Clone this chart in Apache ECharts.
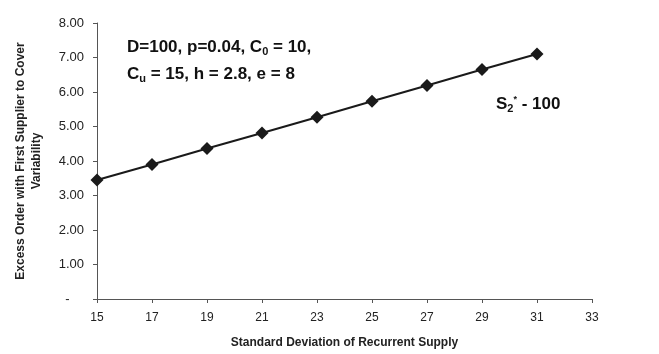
<!DOCTYPE html>
<html><head><meta charset="utf-8">
<script src="https://cdn.jsdelivr.net/npm/echarts@6/dist/echarts.min.js"></script>
<style>html,body{margin:0;padding:0;background:#fff}#c{width:659px;height:354px}</style>
</head><body><div id="c"></div>
<script>
const xValues = [15, 17, 19, 21, 23, 25, 27, 29, 31];
const yValues = [3.45, 3.90, 4.36, 4.81, 5.27, 5.73, 6.19, 6.65, 7.10];
const xAxisTitle = 'Standard Deviation of Recurrent Supply';
const yAxisTitle = 'Excess Order with First Supplier to Cover\nVariability';
const font = '"Liberation Sans", Arial, sans-serif';
const chart = echarts.init(document.getElementById('c'), null, {renderer: 'canvas'});
const subRich = {
  b: {fontFamily: font, fontWeight: 'bold', fontSize: 17, color: '#111'},
  s: {fontFamily: font, fontWeight: 'bold', fontSize: 11, color: '#111', padding: [8, 0, 0, 0]},
  sup: {fontFamily: font, fontWeight: 'bold', fontSize: 9, color: '#111', padding: [0, 0, 10, 0]}
};
chart.setOption({
  animation: false,
  grid: {left: 97, right: 67, top: 23, bottom: 55},
  title: [
    {left: 122, top: 33, text: '{b|D=100, p=0.04, C}{s|0}{b| = 10,}', textStyle: {rich: subRich}},
    {left: 122, top: 60, text: '{b|C}{s|u}{b| = 15, h = 2.8, e = 8}', textStyle: {rich: subRich}},
    {left: 491, top: 90, text: '{b|S}{s|2}{sup|*}{b| - 100}', textStyle: {rich: subRich}}
  ],
  xAxis: {
    type: 'value', min: 15, max: 33, interval: 2,
    name: xAxisTitle, nameLocation: 'middle', nameGap: 38,
    nameTextStyle: {fontFamily: font, fontWeight: 'bold', fontSize: 12, color: '#222'},
    axisLine: {lineStyle: {color: '#555', width: 1}},
    axisTick: {show: true, length: 4, lineStyle: {color: '#555'}},
    axisLabel: {fontFamily: font, fontSize: 12, color: '#222', margin: 13},
    splitLine: {show: false}
  },
  yAxis: {
    type: 'value', min: 0, max: 8, interval: 1,
    name: yAxisTitle, nameLocation: 'middle', nameGap: 52, nameRotate: 90,
    nameTextStyle: {fontFamily: font, fontWeight: 'bold', fontSize: 12, color: '#222', lineHeight: 16},
    axisLine: {show: true, lineStyle: {color: '#555', width: 1}},
    axisTick: {show: true, length: 4, lineStyle: {color: '#555'}},
    axisLabel: {fontFamily: font, fontSize: 13, color: '#222', margin: 13,
      formatter: v => v === 0 ? '-    ' : v.toFixed(2)},
    splitLine: {show: false}
  },
  series: [{
    type: 'line',
    data: xValues.map((x, i) => [x, yValues[i]]),
    symbol: 'diamond', symbolSize: 13,
    lineStyle: {color: '#1a1a1a', width: 2},
    itemStyle: {color: '#1a1a1a'}
  }]
});
</script></body></html>
